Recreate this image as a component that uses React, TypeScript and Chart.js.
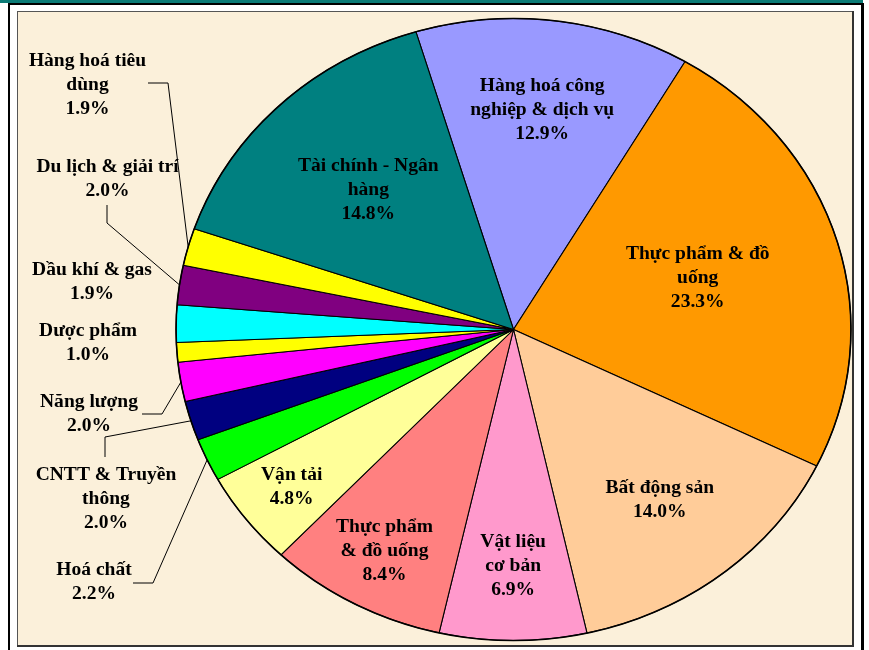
import React, { useEffect, useRef } from "react";
import { Chart, registerables } from "chart.js";
Chart.register(...registerables);

// ---- data ----
const categories = [
  "Hàng hoá công nghiệp & dịch vụ",
  "Thực phẩm & đồ uống",
  "Bất động sản",
  "Vật liệu cơ bản",
  "Thực phẩm & đồ uống (2)",
  "Vận tải",
  "Hoá chất",
  "CNTT & Truyền thông",
  "Năng lượng",
  "Dược phẩm",
  "Dầu khí & gas",
  "Du lịch & giải trí",
  "Hàng hoá tiêu dùng",
  "Tài chính - Ngân hàng",
];
const shares = [12.9, 23.3, 14.0, 6.9, 8.4, 4.8, 2.2, 2.0, 2.0, 1.0, 1.9, 2.0, 1.9, 14.8];
const sliceColors = [
  "#9999FF", "#FF9900", "#FFCC99", "#FF99CC", "#FF8080", "#FFFF99", "#00FF00",
  "#000080", "#FF00FF", "#FFFF00", "#00FFFF", "#800080", "#FFFF00", "#008080",
];
const labelLines = [
  ["Hàng hoá công", "nghiệp & dịch vụ"],
  ["Thực phẩm & đồ", "uống"],
  ["Bất động sản"],
  ["Vật liệu", "cơ bản"],
  ["Thực phẩm", "& đồ uống"],
  ["Vận tải"],
  ["Hoá chất"],
  ["CNTT & Truyền", "thông"],
  ["Năng lượng"],
  ["Dược phẩm"],
  ["Dầu khí & gas"],
  ["Du lịch & giải trí"],
  ["Hàng hoá tiêu", "dùng"],
  ["Tài chính - Ngân", "hàng"],
];

// ---- layout (not data) ----
const SX = 338 / 311.5; // horizontal stretch of the picture
const LINE_H = 24;
type Lay =
  | { kind: "in"; r: number }
  | { kind: "out"; x: number; y: number; leader?: number[][] };
const labelLayout: Lay[] = [
  { kind: "in", r: 0.71 },
  { kind: "in", r: 0.57 },
  { kind: "in", r: 0.7 },
  { kind: "in", r: 0.76 },
  { kind: "in", r: 0.81 },
  { kind: "in", r: 0.83 },
  { kind: "out", x: 94, y: 570, leader: [[133, 583], [153, 583]] },
  { kind: "out", x: 106, y: 475, leader: [[105, 457], [105, 437]] },
  { kind: "out", x: 89, y: 402, leader: [[142, 414], [162, 414]] },
  { kind: "out", x: 88, y: 331.5 },
  { kind: "out", x: 92, y: 270 },
  { kind: "out", x: 107.5, y: 167, leader: [[107, 205], [107, 223]] },
  { kind: "out", x: 87.5, y: 61, leader: [[148, 83], [168, 83]] },
  { kind: "in", r: 0.62 },
];

const framePlugin = {
  id: "frame",
  beforeDraw(chart: any) {
    const ctx = chart.ctx;
    ctx.save();
    ctx.fillStyle = "#FFFFFF";
    ctx.fillRect(0, 0, 869, 650);
    ctx.fillStyle = "#0B7B76";
    ctx.fillRect(0, 0, 863, 3);
    ctx.fillStyle = "#000000";
    ctx.fillRect(8, 3, 856, 2);
    ctx.fillRect(8, 3, 2, 647);
    ctx.fillRect(861, 3, 3, 647);
    ctx.fillStyle = "#FBF0DA";
    ctx.fillRect(17, 11, 836, 634);
    ctx.strokeStyle = "#555555";
    ctx.lineWidth = 1;
    ctx.strokeRect(17.5, 11.5, 835, 634);
    ctx.strokeStyle = "#333333";
    ctx.lineWidth = 2;
    ctx.beginPath();
    ctx.moveTo(853, 11);
    ctx.lineTo(853, 646);
    ctx.lineTo(17, 646);
    ctx.stroke();
    ctx.restore();
  },
};

const ellipsePlugin = {
  id: "ellipse",
  beforeDatasetsDraw(chart: any) {
    const arc = chart.getDatasetMeta(0).data[0];
    const ctx = chart.ctx;
    ctx.save();
    ctx.translate(arc.x, arc.y);
    ctx.scale(SX, 1);
    ctx.translate(-arc.x, -arc.y);
  },
  afterDatasetsDraw(chart: any) {
    const ctx = chart.ctx;
    const arc = chart.getDatasetMeta(0).data[0];
    ctx.beginPath();
    ctx.arc(arc.x, arc.y, arc.outerRadius, 0, Math.PI * 2);
    ctx.restore();
    ctx.save();
    ctx.strokeStyle = "#000";
    ctx.lineWidth = 1.6;
    ctx.beginPath();
    ctx.ellipse(arc.x, arc.y, arc.outerRadius * SX, arc.outerRadius, 0, 0, Math.PI * 2);
    ctx.stroke();
    ctx.restore();
  },
};

const labelPlugin = {
  id: "labels",
  afterDraw(chart: any) {
    const ctx = chart.ctx;
    const arcs = chart.getDatasetMeta(0).data;
    ctx.save();
    ctx.fillStyle = "#000";
    ctx.strokeStyle = "#000";
    ctx.lineWidth = 1;
    ctx.font = "bold 18px 'Liberation Serif', 'Times New Roman', serif";
    ctx.textAlign = "center";
    ctx.textBaseline = "middle";
    const drawText = (t: string, x: number, y: number) => {
      ctx.save();
      ctx.translate(x, y);
      ctx.scale(SX, 1);
      ctx.fillText(t, 0, 0);
      ctx.restore();
    };
    arcs.forEach((a: any, i: number) => {
      const lines = [...labelLines[i], shares[i].toFixed(1) + "%"];
      const mid = (a.startAngle + a.endAngle) / 2;
      const lay = labelLayout[i];
      if (lay.kind === "in") {
        const cx = a.x + Math.cos(mid) * a.outerRadius * lay.r * SX;
        const cy = a.y + Math.sin(mid) * a.outerRadius * lay.r;
        const y0 = cy - ((lines.length - 1) * LINE_H) / 2;
        lines.forEach((t, k) => drawText(t, cx, y0 + k * LINE_H));
      } else {
        lines.forEach((t, k) => drawText(t, lay.x, lay.y + k * LINE_H));
        if (lay.leader) {
          const ex = a.x + Math.cos(mid) * a.outerRadius * SX;
          const ey = a.y + Math.sin(mid) * a.outerRadius;
          ctx.beginPath();
          ctx.moveTo(lay.leader[0][0], lay.leader[0][1]);
          for (let k = 1; k < lay.leader.length; k++) ctx.lineTo(lay.leader[k][0], lay.leader[k][1]);
          ctx.lineTo(ex, ey);
          ctx.stroke();
        }
      }
    });
    ctx.restore();
  },
};

export default function App() {
  const ref = useRef<HTMLCanvasElement | null>(null);
  useEffect(() => {
    if (!ref.current) return;
    const chart = new Chart(ref.current, {
      type: "pie",
      data: {
        labels: categories,
        datasets: [
          {
            data: shares,
            backgroundColor: sliceColors,
            borderColor: "#000000",
            borderWidth: 1,
          },
        ],
      },
      options: {
        animation: false,
        responsive: false,
        devicePixelRatio: 1,
        rotation: -16.8,
        layout: { padding: { top: 18, bottom: 9, left: 202, right: 44 } },
        plugins: {
          legend: { display: false },
          tooltip: { enabled: false },
        },
      },
      plugins: [framePlugin, ellipsePlugin, labelPlugin],
    });
    return () => chart.destroy();
  }, []);
  return (
    <canvas
      ref={ref}
      width={869}
      height={650}
      style={{ position: "fixed", left: 0, top: 0, width: 869, height: 650 }}
    />
  );
}
